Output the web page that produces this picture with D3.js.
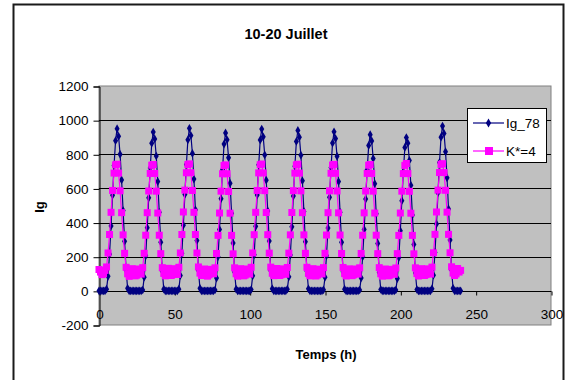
<!DOCTYPE html>
<html>
<head>
<meta charset="utf-8">
<script src="https://cdn.jsdelivr.net/npm/d3@7"></script>
<style>
  body { margin: 0; background: #fff; }
  svg { display: block; font-family: Arial, "Liberation Sans", sans-serif; }
</style>
</head>
<body>
<svg id="chart" width="567" height="380"></svg>
<script>
// ---- data ----------------------------------------------------------------
const chartTitle = "10-20 Juillet";
const xTitle = "Temps (h)";
const yTitle = "Ig";
const xTicks = [0, 50, 100, 150, 200, 250, 300];
const yTicks = [-200, 0, 200, 400, 600, 800, 1000, 1200];
const seriesNames = ["Ig_78", "K*=4"];

// hourly time steps, 0 .. 240 h
const hours = d3.range(0, 241);

// measured global irradiance, one row per day
const ig78 = [
  0,0,0,0,0,10,85,215,380,560,735,880,950,905,800,650,470,290,120,15,0,0,0,0,
  0,0,0,0,0,5,80,205,370,545,720,865,930,890,790,640,460,285,115,10,0,0,0,0,
  0,0,0,0,0,10,90,220,385,565,740,885,952,910,805,655,475,295,120,15,0,0,0,0,
  0,0,0,0,0,5,75,200,360,540,710,860,925,885,780,630,455,280,110,10,0,0,0,0,
  0,0,0,0,0,8,88,212,378,562,738,884,948,902,796,648,468,292,118,12,0,0,0,0,
  0,0,0,0,0,10,82,210,375,555,730,875,940,900,795,645,465,288,116,12,0,0,0,0,
  0,0,0,0,0,6,80,206,368,548,722,866,932,892,788,640,460,284,112,10,0,0,0,0,
  0,0,0,0,0,5,76,200,360,538,710,852,915,878,775,628,452,278,108,8,0,0,0,0,
  0,0,0,0,0,5,72,195,352,528,698,840,898,865,764,618,445,272,105,8,0,0,0,0,
  0,0,0,0,0,12,92,225,392,575,752,900,965,922,815,662,480,298,122,15,0,0,0,0,
  0
];

// model output with K* = 4, one row per day
const k4 = [
  125,110,95,100,120,140,222,330,460,588,690,738,742,690,586,458,328,220,138,100,85,95,130,105,
  88,92,128,120,98,136,220,326,458,585,688,736,740,688,584,456,326,218,136,102,88,100,132,110,
  90,96,130,118,96,138,222,330,462,590,692,740,744,692,588,460,330,222,140,104,90,98,128,108,
  86,94,126,122,100,135,219,325,456,584,686,734,738,686,582,455,325,217,135,100,86,96,130,106,
  88,92,128,120,98,138,222,329,460,588,691,739,743,691,587,459,329,221,139,103,89,97,131,109,
  90,95,129,119,97,137,221,328,459,587,690,738,742,690,586,458,328,220,138,102,88,99,130,107,
  87,93,127,121,99,136,220,327,458,586,689,737,741,689,585,457,327,219,137,101,87,97,129,108,
  89,94,128,118,98,135,219,326,457,585,688,736,740,688,584,456,326,218,136,100,86,96,128,106,
  88,92,126,120,97,134,218,325,456,584,687,735,746,687,583,455,325,217,135,101,87,98,130,107,
  90,95,129,119,98,139,223,331,462,590,693,741,745,693,589,461,331,223,141,104,90,99,131,110,
  120
];

// ---- layout --------------------------------------------------------------
const svg = d3.select("#chart");
const plot = { left: 99, right: 551, top: 86, bottom: 325 };
const colors = { ig: "#000080", k: "#FF00FF" };
const fontStack = "Arial, 'Liberation Sans', sans-serif";

const x = d3.scaleLinear().domain([0, 300]).range([plot.left, plot.right]);
const y = d3.scaleLinear().domain([-200, 1200]).range([plot.bottom, plot.top]);

// outer chart frame
svg.append("rect")
  .attr("x", 13.5).attr("y", 4.5)
  .attr("width", 550).attr("height", 400)
  .attr("fill", "#fff").attr("stroke", "#1a1a1a").attr("stroke-width", 2);

// plot background
svg.append("rect")
  .attr("x", plot.left).attr("y", plot.top)
  .attr("width", plot.right - plot.left).attr("height", plot.bottom - plot.top)
  .attr("fill", "#C0C0C0").attr("stroke", "#808080").attr("stroke-width", 1);

// horizontal gridlines
svg.append("g")
  .selectAll("line")
  .data(yTicks.filter(v => v > 0 && v < 1200))
  .join("line")
  .attr("x1", plot.left).attr("x2", plot.right)
  .attr("y1", d => Math.round(y(d)) + 0.5).attr("y2", d => Math.round(y(d)) + 0.5)
  .attr("stroke", "#000").attr("stroke-width", 1);

// y axis
const plainNumber = d => String(d);
const yAxis = d3.axisLeft(y).tickValues(yTicks).tickSize(6).tickPadding(5)
  .tickFormat(plainNumber);
const gy = svg.append("g")
  .attr("transform", `translate(${plot.left + 0.5},0.5)`)
  .call(yAxis);
gy.select(".domain").attr("stroke", "#000");
gy.selectAll(".tick line").attr("stroke", "#000");
gy.selectAll(".tick text")
  .attr("fill", "#000").style("font-size", "13.5px")
  .style("font-family", fontStack);

// x axis, crossing at y = 0
const xAxis = d3.axisBottom(x).tickValues(xTicks).tickSize(4).tickPadding(14)
  .tickFormat(plainNumber);
const gx = svg.append("g")
  .attr("transform", `translate(0.5,${Math.round(y(0)) + 0.5})`)
  .call(xAxis);
gx.select(".domain").attr("d", `M${plot.left},0H${plot.right}`).attr("stroke", "#000");
gx.selectAll(".tick line").attr("stroke", "#000");
gx.selectAll(".tick text")
  .attr("fill", "#000").style("font-size", "13.5px")
  .style("font-family", fontStack);

// series
const series = [
  { name: seriesNames[0], values: ig78, color: colors.ig, marker: "diamond" },
  { name: seriesNames[1], values: k4, color: colors.k, marker: "square" }
];

const line = d3.line().x((d, i) => x(hours[i])).y(d => y(d));
const diamond = d3.symbol().type(d3.symbolDiamond).size(22);

series.forEach(s => {
  const g = svg.append("g");
  g.append("path")
    .attr("d", line(s.values))
    .attr("fill", "none").attr("stroke", s.color).attr("stroke-width", 1.2);
  if (s.marker === "diamond") {
    g.selectAll("path.m")
      .data(s.values)
      .join("path").attr("class", "m")
      .attr("d", diamond)
      .attr("transform", (d, i) => `translate(${x(hours[i])},${y(d)})`)
      .attr("fill", s.color);
  } else {
    g.selectAll("rect.m")
      .data(s.values)
      .join("rect").attr("class", "m")
      .attr("x", (d, i) => x(hours[i]) - 3.5).attr("y", d => y(d) - 3.5)
      .attr("width", 7).attr("height", 7)
      .attr("fill", s.color);
  }
});

// legend
const legend = svg.append("g");
legend.append("rect")
  .attr("x", 467.5).attr("y", 108.5).attr("width", 79).attr("height", 54)
  .attr("fill", "#fff").attr("stroke", "#000").attr("stroke-width", 1);
series.forEach((s, i) => {
  const ly = 123 + i * 28;
  legend.append("line")
    .attr("x1", 473).attr("x2", 504).attr("y1", ly).attr("y2", ly)
    .attr("stroke", s.color).attr("stroke-width", 1.2);
  if (s.marker === "diamond") {
    legend.append("path").attr("d", d3.symbol().type(d3.symbolDiamond).size(24))
      .attr("transform", `translate(488.5,${ly})`).attr("fill", s.color);
  } else {
    legend.append("rect").attr("x", 485).attr("y", ly - 4)
      .attr("width", 8).attr("height", 8).attr("fill", s.color);
  }
  legend.append("text")
    .attr("x", 506).attr("y", ly + 5)
    .style("font-size", "13.5px").attr("fill", "#000")
    .text(s.name);
});

// titles
svg.append("text")
  .attr("x", 286).attr("y", 39).attr("text-anchor", "middle")
  .style("font-size", "14.5px").style("font-weight", "bold")
  .text(chartTitle);

svg.append("text")
  .attr("x", 326).attr("y", 359).attr("text-anchor", "middle")
  .style("font-size", "13px").style("font-weight", "bold")
  .text(xTitle);

svg.append("text")
  .attr("transform", "translate(44,207) rotate(-90)")
  .attr("text-anchor", "middle")
  .style("font-size", "13px").style("font-weight", "bold")
  .text(yTitle);
</script>
</body>
</html>
